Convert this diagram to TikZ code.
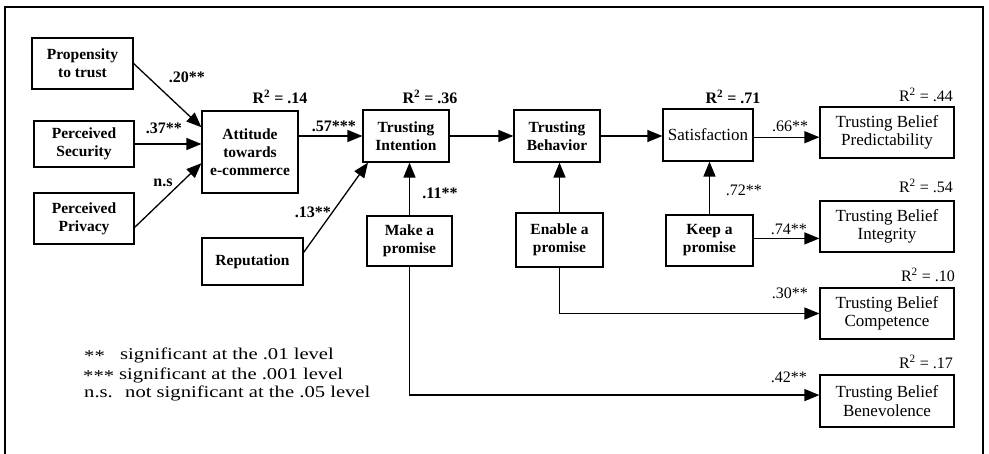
\documentclass[tikz,border=0pt]{standalone}
\usepackage{fontspec}
\setmainfont{Liberation Serif}
\newfontfamily\legendfont[FakeStretch=1.25]{Liberation Serif}
\usetikzlibrary{arrows.meta}
\newcommand{\bxbf}{\fontsize{15.5}{18}\selectfont\bfseries}
\newcommand{\bxrm}{\fontsize{17}{18.5}\selectfont}
\newcommand{\lblf}{\fontsize{16}{18}\selectfont}
\begin{document}
\begin{tikzpicture}[x=1pt,y=-1pt,
  bbox/.style={draw, line width=1.2pt, inner sep=0pt, align=center, font=\bxbf},
  rbox/.style={draw, line width=1.2pt, inner sep=0pt, align=center, font=\bxrm, minimum width=134pt, minimum height=51pt},
  arr/.style={line width=1.3pt, -{Triangle[length=15pt,width=12pt]}},
  lbl/.style={inner sep=0pt, font=\lblf},
  lgd/.style={inner sep=0pt, anchor=west, font=\legendfont\fontsize{16.5}{18}\selectfont}]
\useasboundingbox (0,0) rectangle (989,454);
% frame (open at the bottom)
\draw[line width=1.2pt] (5,454) -- (5,7) -- (983,7) -- (983,454);

% boxes
\node[bbox, minimum width=101pt, minimum height=51pt] (prop) at (82.5,63.5) {Propensity\\to trust};
\node[bbox, minimum width=100pt, minimum height=46pt] (sec) at (84,144) {Perceived\\Security};
\node[bbox, minimum width=100pt, minimum height=51pt] (priv) at (84,218.5) {Perceived\\Privacy};
\node[bbox, minimum width=96pt, minimum height=82pt] (att) at (250,152) {Attitude\\towards\\e-commerce};
\node[bbox, minimum width=101pt, minimum height=47pt] (rep) at (252.5,261.5) {Reputation};
\node[bbox, minimum width=86pt, minimum height=52pt] (ti) at (406,136) {Trusting\\Intention};
\node[bbox, minimum width=86pt, minimum height=52pt] (tb) at (557,136) {Trusting\\Behavior};
\node[bbox, font=\bxrm, minimum width=90pt, minimum height=52pt] (sat) at (708,135) {Satisfaction};
\node[bbox, minimum width=85pt, minimum height=50pt] (mp) at (409.5,241) {Make a\\promise};
\node[bbox, minimum width=87pt, minimum height=54pt] (en) at (559.5,240) {Enable a\\promise};
\node[bbox, minimum width=87pt, minimum height=51pt] (kp) at (709.5,240.5) {Keep a\\promise};
\node[rbox] (pred) at (887,132.5) {Trusting Belief\\Predictability};
\node[rbox] (integ) at (887,226.5) {Trusting Belief\\Integrity};
\node[rbox] (comp) at (887,313.5) {Trusting Belief\\Competence};
\node[rbox, minimum height=52pt] (benev) at (887,401) {Trusting Belief\\Benevolence};

% connectors
\draw[arr] (prop.east) -- (att.153);
\draw[arr] (sec.east) -- (sec.east -| att.west);
\draw[arr] (priv.-10) -- (att.193);
\draw[arr] (att.east |- ti.west) -- (ti.west);
\draw[arr] (rep.10) -- (ti.215);
\draw[arr] (ti.east) -- (ti.east -| tb.west);
\draw[arr] (tb.east) -- (tb.east -| sat.west);
\draw[arr] (sat.east |- pred.184) -- (pred.184);
\draw[arr] (mp.north) -- (mp.north |- ti.south);
\draw[arr] (en.north) -- (en.north |- tb.south);
\draw[arr] (kp.north) -- (kp.north |- sat.south);
\draw[arr] (kp.east |- integ.190) -- (integ.190);
\draw[arr] (en.south) |- (comp.west);
\draw[arr] (mp.south) |- (benev.175);

% path coefficients
\node[lbl, font=\lblf\bfseries, anchor=east] (c1) at (205,77) {.20**};
\node[lbl, font=\lblf\bfseries, anchor=east] (c2) at (182,128) {.37**};
\node[lbl, font=\lblf\bfseries] (c3) at (163,183) {n.s};
\node[lbl, font=\lblf\bfseries, anchor=east] (c4) at (356,126) {.57***};
\node[lbl, font=\lblf\bfseries, anchor=east] (c5) at (331,212) {.13**};
\node[lbl, font=\lblf\bfseries] (c6) at (440,193) {.11**};
\node[lbl] (c7) at (790,126) {.66**};
\node[lbl, anchor=east] (c8) at (762,190) {.72**};
\node[lbl, anchor=east] (c9) at (807,229) {.74**};
\node[lbl, anchor=east] (c10) at (808,293) {.30**};
\node[lbl, anchor=east] (c11) at (807,377) {.42**};

% R squared
\node[lbl, font=\lblf\bfseries] (r1) at (280,97) {R\textsuperscript{2} = .14};
\node[lbl, font=\lblf\bfseries] (r2) at (430,97) {R\textsuperscript{2} = .36};
\node[lbl, font=\lblf\bfseries] (r3) at (733,97) {R\textsuperscript{2} = .71};
\node[lbl, anchor=east] (r4) at (953,95) {R\textsuperscript{2} = .44};
\node[lbl, anchor=east] (r5) at (953,186) {R\textsuperscript{2} = .54};
\node[lbl, anchor=east] (r6) at (955,275) {R\textsuperscript{2} = .10};
\node[lbl, anchor=east] (r7) at (953,362) {R\textsuperscript{2} = .17};

% legend
\node[lgd] (k1) at (84,356) {**};
\node[lgd] (t1) at (120,355) {significant at the .01 level};
\node[lgd] (k2) at (83,376) {***};
\node[lgd] (t2) at (119,375) {significant at the .001 level};
\node[lgd] (k3) at (84,394) {n.s.};
\node[lgd] (t3) at (125,393) {not significant at the .05 level};
\end{tikzpicture}
\end{document}
